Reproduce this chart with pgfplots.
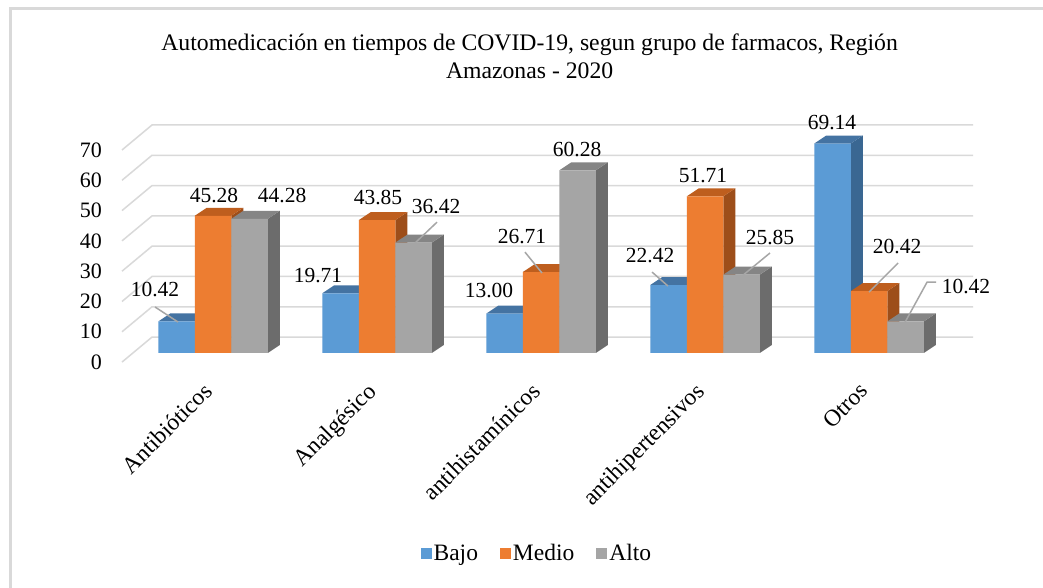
\documentclass[border=0pt]{standalone}
\usepackage{fontspec}
\setmainfont{Liberation Serif}
\usepackage{pgfplots}
\usepackage{pgfplotstable}
\pgfplotsset{compat=1.18}
\definecolor{bajo}{HTML}{5B9BD5}
\definecolor{bajotop}{HTML}{4473A2}
\definecolor{bajoside}{HTML}{3A6792}
\definecolor{medio}{HTML}{ED7D31}
\definecolor{mediotop}{HTML}{BE5E1E}
\definecolor{medioside}{HTML}{9D4E1A}
\definecolor{alto}{HTML}{A5A5A5}
\definecolor{altotop}{HTML}{858585}
\definecolor{altoside}{HTML}{6C6C6C}
\definecolor{gridc}{HTML}{D9D9D9}
\definecolor{leadc}{HTML}{A6A6A6}
\newcommand\fs{\fontsize{21.5}{25}\selectfont}

\pgfplotstableread{
x bajo medio alto
0 10.42 45.28 44.28
1 19.71 43.85 36.42
2 13.00 26.71 60.28
3 22.42 51.71 25.85
4 69.14 20.42 10.42
}\datatable

\newcommand\facebar[4]{%
 \pgfplotstablegetelem{#1}{#2}\of\datatable
 \pgfmathsetmacro\bv{\pgfplotsretval}%
 \pgfmathsetmacro\bl{#1+#3-0.1113}%
 \pgfmathsetmacro\br{#1+#3+0.1113}%
 \pgfmathsetmacro\bld{\bl+0.0732}%
 \pgfmathsetmacro\brd{\br+0.0732}%
 \pgfmathsetmacro\bvd{\bv+2.64}%
 \edef\temp{\noexpand\addplot[fill=#4side,draw=none,forget plot] coordinates {(\br,0) (\br,\bv) (\brd,\bvd) (\brd,2.64)};%
 \noexpand\addplot[fill=#4top,draw=none,forget plot] coordinates {(\bl,\bv) (\br,\bv) (\brd,\bvd) (\bld,\bvd)};}%
 \temp
}

\begin{document}
\begin{tikzpicture}
\useasboundingbox (0,0) rectangle (1043pt,588pt);
\fill[white] (0,0) rectangle (1043pt,588pt);
\draw[gridc, line width=3pt] (10pt,0) -- (10pt,579pt) -- (1043pt,579pt);
\begin{axis}[
  x=164pt, y=3.03pt,
  xmin=-0.555, xmax=4.634, ymin=-4, ymax=80,
  anchor=south west, at={(122pt,222.88pt)},
  axis line style={draw=none},
  clip=false,
  xtick={0,1,2,3,4},
  xticklabels={Antibióticos, Analgésico, antihistamínicos, antihipertensivos, Otros},
  ytick={-3,7,17,27,37,47,57,67},
  yticklabels={0,10,20,30,40,50,60,70},
  tick style={draw=none},
  yticklabel style={font=\fontsize{22}{25}\selectfont, anchor=east, inner sep=0pt, xshift=-20pt},
  xticklabel style={font=\fontsize{23.5}{27}\selectfont, xshift=-11pt, yshift=-16pt, rotate=45, anchor=north east, inner sep=0pt},
  title={Automedicación en tiempos de COVID-19, segun grupo de farmacos, Región\\Amazonas - 2020},
  title style={align=center, font=\fontsize{23.7}{28}\selectfont, at={(0.479,1.19)}, anchor=center},
  legend style={at={(0.4875,-0.739)}, anchor=center, draw=none, fill=none, font=\fontsize{23.5}{26}\selectfont, legend columns=-1,
    /tikz/every even column/.append style={column sep=20pt}},
]
% grid (3D walls)
\addplot[gridc, line width=1.5pt, forget plot] coordinates {(-0.555,-3) (-0.372,5.25) (4.634,5.25)};
\addplot[gridc, line width=1.5pt, forget plot] coordinates {(-0.555,7) (-0.372,15.25) (4.634,15.25)};
\addplot[gridc, line width=1.5pt, forget plot] coordinates {(-0.555,17) (-0.372,25.25) (4.634,25.25)};
\addplot[gridc, line width=1.5pt, forget plot] coordinates {(-0.555,27) (-0.372,35.25) (4.634,35.25)};
\addplot[gridc, line width=1.5pt, forget plot] coordinates {(-0.555,37) (-0.372,45.25) (4.634,45.25)};
\addplot[gridc, line width=1.5pt, forget plot] coordinates {(-0.555,47) (-0.372,55.25) (4.634,55.25)};
\addplot[gridc, line width=1.5pt, forget plot] coordinates {(-0.555,57) (-0.372,65.25) (4.634,65.25)};
\addplot[gridc, line width=1.5pt, forget plot] coordinates {(-0.555,67) (-0.372,75.25) (4.634,75.25)};
% 3D faces
\facebar{0}{bajo}{-0.2226}{bajo}\facebar{0}{medio}{0}{medio}\facebar{0}{alto}{0.2226}{alto}
\facebar{1}{bajo}{-0.2226}{bajo}\facebar{1}{medio}{0}{medio}\facebar{1}{alto}{0.2226}{alto}
\facebar{2}{bajo}{-0.2226}{bajo}\facebar{2}{medio}{0}{medio}\facebar{2}{alto}{0.2226}{alto}
\facebar{3}{bajo}{-0.2226}{bajo}\facebar{3}{medio}{0}{medio}\facebar{3}{alto}{0.2226}{alto}
\facebar{4}{bajo}{-0.2226}{bajo}\facebar{4}{medio}{0}{medio}\facebar{4}{alto}{0.2226}{alto}
% front faces
\addplot[ybar, bar width=36.5pt, bar shift=-36.5pt, fill=bajo, draw=none,
  legend image code/.code={\fill[bajo] (0pt,-5.5pt) rectangle (11pt,5.5pt);}] table[x=x,y=bajo] {\datatable};
\addlegendentry{Bajo}
\addplot[ybar, bar width=36.5pt, bar shift=0pt, fill=medio, draw=none,
  legend image code/.code={\fill[medio] (0pt,-5.5pt) rectangle (11pt,5.5pt);}] table[x=x,y=medio] {\datatable};
\addlegendentry{Medio}
\addplot[ybar, bar width=36.5pt, bar shift=36.5pt, fill=alto, draw=none,
  legend image code/.code={\fill[alto] (0pt,-5.5pt) rectangle (11pt,5.5pt);}] table[x=x,y=alto] {\datatable};
\addlegendentry{Alto}
% leader lines
\addplot[leadc, line width=1.5pt, forget plot] coordinates {(-0.354,15.2) (-0.213,10.2)};
\addplot[leadc, line width=1.5pt, forget plot] coordinates {(1.366,43.2) (1.232,36.3)};
\addplot[leadc, line width=1.5pt, forget plot] coordinates {(1.902,33.3) (2.006,26.4)};
\addplot[leadc, line width=1.5pt, forget plot] coordinates {(2.677,26.7) (2.774,22.1)};
\addplot[leadc, line width=1.5pt, forget plot] coordinates {(3.396,33.0) (3.232,25.7)};
\addplot[leadc, line width=1.5pt, forget plot] coordinates {(4.177,29.7) (4.0,20.1)};
\addplot[leadc, line width=1.5pt, forget plot] coordinates {(4.409,23.4) (4.354,23.4) (4.220,10.2)};
% value labels
\node[font=\fs] at (axis cs:-0.354,20.8) {10.42};
\node[font=\fs] at (axis cs:0.006,52.1) {45.28};
\node[font=\fs] at (axis cs:0.421,52.1) {44.28};
\node[font=\fs] at (axis cs:0.640,25.7) {19.71};
\node[font=\fs] at (axis cs:1.006,51.2) {43.85};
\node[font=\fs] at (axis cs:1.360,48.5) {36.42};
\node[font=\fs] at (axis cs:1.683,20.5) {13.00};
\node[font=\fs] at (axis cs:1.884,38.6) {26.71};
\node[font=\fs] at (axis cs:2.220,67.0) {60.28};
\node[font=\fs] at (axis cs:2.665,32.3) {22.42};
\node[font=\fs] at (axis cs:2.988,58.4) {51.71};
\node[font=\fs] at (axis cs:3.396,38.0) {25.85};
\node[font=\fs] at (axis cs:3.774,75.9) {69.14};
\node[font=\fs] at (axis cs:4.171,35.3) {20.42};
\node[font=\fs] at (axis cs:4.591,22.1) {10.42};
\end{axis}
\end{tikzpicture}
\end{document}
